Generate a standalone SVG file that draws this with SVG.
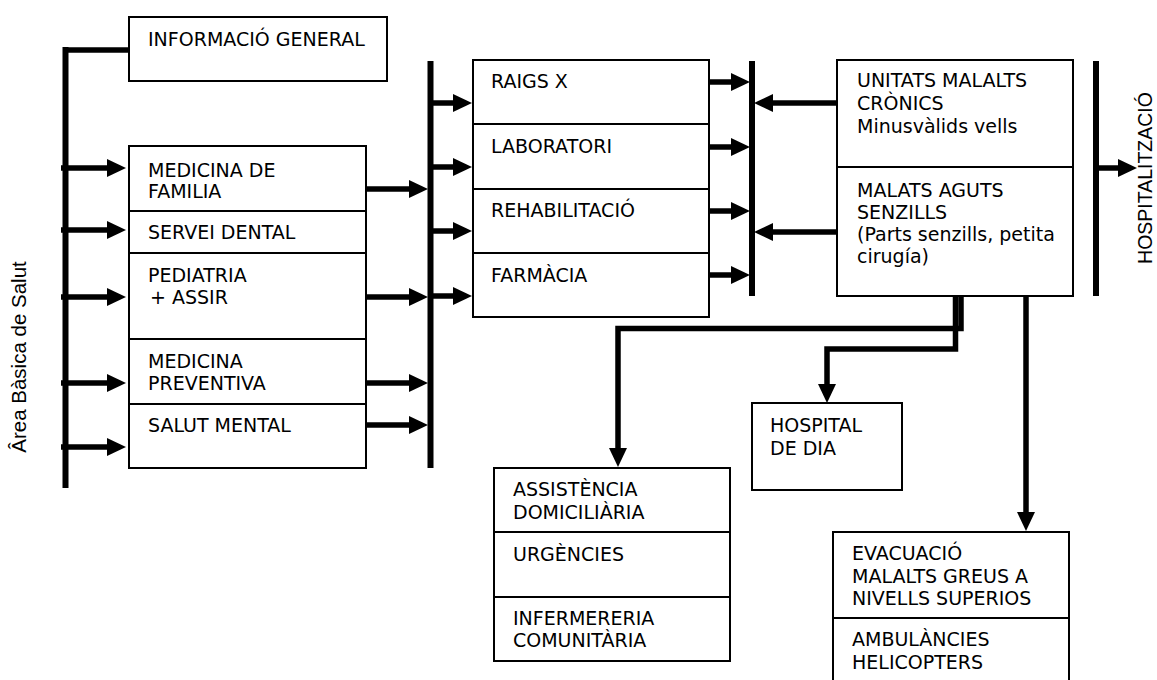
<svg xmlns="http://www.w3.org/2000/svg" width="1157" height="680" viewBox="0 0 1157 680">
<defs>
<style>
.box{fill:#fff;stroke:#000;stroke-width:2}
.t{font-family:"DejaVu Sans",Verdana,sans-serif;font-size:19px;fill:#000}
.side{font-family:"Liberation Sans",Arial,sans-serif;fill:#000}
.bar{stroke:#000;stroke-width:6;fill:none}
.c{stroke:#000;stroke-width:5.5;fill:none}
.a{stroke:#000;stroke-width:5.5;fill:none;marker-end:url(#ah)}
</style>
<marker id="ah" markerUnits="userSpaceOnUse" viewBox="0 0 19 18" markerWidth="19" markerHeight="18" refX="0" refY="9" orient="auto">
<path d="M0,0 L19,9 L0,18 z" fill="#000"/>
</marker>
</defs>
<rect width="1157" height="680" fill="#fff"/>

<g id="connectors">
<path class="bar" d="M65.5,47 V488"/>
<path class="c" d="M63,50 H129"/>
<path class="bar" d="M430.5,61 V468"/>
<path class="bar" d="M752,61 V296"/>
<path class="bar" d="M1096,61 V296"/>
<path class="a" d="M61,168 H107"/>
<path class="a" d="M61,230 H107"/>
<path class="a" d="M61,297 H107"/>
<path class="a" d="M61,383 H107"/>
<path class="a" d="M61,447 H107"/>
<path class="a" d="M366,189 H409"/>
<path class="a" d="M366,297 H409"/>
<path class="a" d="M366,383 H409"/>
<path class="a" d="M366,425 H409"/>
<path class="a" d="M430,103 H453"/>
<path class="a" d="M430,167 H453"/>
<path class="a" d="M430,231 H453"/>
<path class="a" d="M430,296 H453"/>
<path class="a" d="M709,82 H731"/>
<path class="a" d="M709,147 H731"/>
<path class="a" d="M709,211 H731"/>
<path class="a" d="M709,275 H731"/>
<path class="a" d="M838,103 H773"/>
<path class="a" d="M838,232 H773"/>
<path class="a" d="M1096,168 H1118"/>
<path class="a" d="M955.5,296 V349 H827 V384"/>
<path class="a" d="M961,296 V328.5 H618 V448"/>
<path class="a" d="M1026,296 V512"/>
</g>

<g id="info-general">
<rect class="box" x="129" y="17" width="258" height="64"/>
<text class="t" x="148" y="46">INFORMACIÓ GENERAL</text>
</g>

<g id="medicina-familia">
<rect class="box" x="129" y="146" width="237" height="65"/>
<text class="t" x="148" y="177">MEDICINA DE</text>
<text class="t" x="148" y="198">FAMILIA</text>
</g>
<g id="servei-dental">
<rect class="box" x="129" y="211" width="237" height="42"/>
<text class="t" x="148" y="239">SERVEI DENTAL</text>
</g>
<g id="pediatria">
<rect class="box" x="129" y="253" width="237" height="86"/>
<text class="t" x="148" y="282">PEDIATRIA</text>
<text class="t" x="150" y="304">+ ASSIR</text>
</g>
<g id="medicina-preventiva">
<rect class="box" x="129" y="339" width="237" height="65"/>
<text class="t" x="148" y="368">MEDICINA</text>
<text class="t" x="148" y="390">PREVENTIVA</text>
</g>
<g id="salut-mental">
<rect class="box" x="129" y="404" width="237" height="64"/>
<text class="t" x="148" y="432">SALUT MENTAL</text>
</g>

<g id="raigs-x">
<rect class="box" x="473" y="60" width="236" height="64"/>
<text class="t" x="491" y="88">RAIGS X</text>
</g>
<g id="laboratori">
<rect class="box" x="473" y="124" width="236" height="65"/>
<text class="t" x="491" y="153">LABORATORI</text>
</g>
<g id="rehabilitacio">
<rect class="box" x="473" y="189" width="236" height="64"/>
<text class="t" x="491" y="217">REHABILITACIÓ</text>
</g>
<g id="farmacia">
<rect class="box" x="473" y="253" width="236" height="64"/>
<text class="t" x="491" y="282">FARMÀCIA</text>
</g>

<g id="unitats-cronics">
<rect class="box" x="837" y="60" width="236" height="107"/>
<text class="t" x="857" y="87">UNITATS MALALTS</text>
<text class="t" x="857" y="110">CRÒNICS</text>
<text class="t" x="857" y="133">Minusvàlids vells</text>
</g>
<g id="malats-aguts">
<rect class="box" x="837" y="167" width="236" height="129"/>
<text class="t" x="857" y="197">MALATS AGUTS</text>
<text class="t" x="857" y="219">SENZILLS</text>
<text class="t" x="857" y="241">(Parts senzills, petita</text>
<text class="t" x="857" y="263">cirugía)</text>
</g>

<g id="hospital-dia">
<rect class="box" x="752" y="403" width="150" height="87"/>
<text class="t" x="770" y="432">HOSPITAL</text>
<text class="t" x="770" y="455">DE DIA</text>
</g>

<g id="assistencia">
<rect class="box" x="494" y="468" width="236" height="64"/>
<text class="t" x="513" y="496">ASSISTÈNCIA</text>
<text class="t" x="513" y="519">DOMICILIÀRIA</text>
</g>
<g id="urgencies">
<rect class="box" x="494" y="532" width="236" height="65"/>
<text class="t" x="513" y="561">URGÈNCIES</text>
</g>
<g id="infermereria">
<rect class="box" x="494" y="597" width="236" height="64"/>
<text class="t" x="513" y="625">INFERMERERIA</text>
<text class="t" x="513" y="647">COMUNITÀRIA</text>
</g>

<g id="evacuacio">
<rect class="box" x="833" y="532" width="236" height="86"/>
<text class="t" x="852" y="560">EVACUACIÓ</text>
<text class="t" x="852" y="583">MALALTS GREUS A</text>
<text class="t" x="852" y="605">NIVELLS SUPERIOS</text>
</g>
<g id="ambulancies">
<rect class="box" x="833" y="618" width="236" height="75"/>
<text class="t" x="852" y="646">AMBULÀNCIES</text>
<text class="t" x="852" y="669">HELICOPTERS</text>
</g>

<g id="label-area">
<text class="side" font-size="20.5" text-anchor="middle" transform="translate(26,357) rotate(-90)">Ârea Bàsica de Salut</text>
</g>
<g id="label-hospitalitzacio">
<text class="side" font-size="19.5" text-anchor="middle" transform="translate(1152,178) rotate(-90)">HOSPITALITZACIÓ</text>
</g>
</svg>
